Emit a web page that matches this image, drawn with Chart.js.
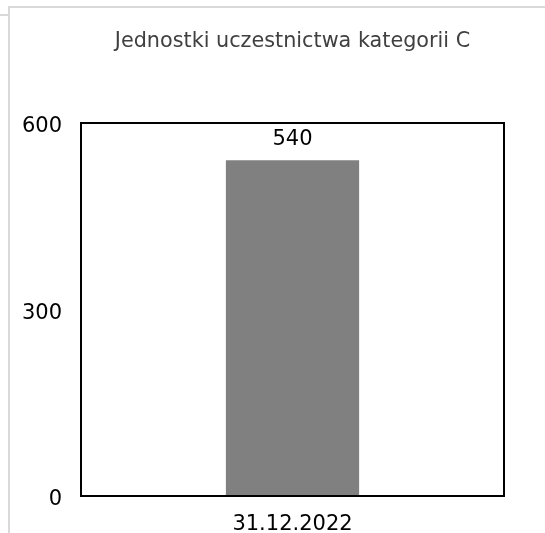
<!DOCTYPE html>
<html>
<head>
<meta charset="utf-8">
<script src="https://cdn.jsdelivr.net/npm/chart.js@4"></script>
<style>
  html, body { margin: 0; padding: 0; background: #fff; }
  #wrap { position: relative; width: 545px; height: 533px; overflow: hidden; }
  #chart { position: absolute; left: 0; top: 0; }
  .frame { position: absolute; background: #d9d9d9; }
</style>
</head>
<body>
<div id="wrap">
  <div class="frame" style="left:8px; top:6px; width:537px; height:2px;"></div>
  <div class="frame" style="left:8px; top:6px; width:2px; height:527px;"></div>
  <div class="frame" style="left:0; top:14px; width:8px; height:2px;"></div>
  <canvas id="chart" width="545" height="533"></canvas>
</div>
<script>
// dane
const chartTitle = "Jednostki uczestnictwa kategorii C";
const categories = ["31.12.2022"];
const values = [540];
const yTicks = [0, 300, 600];

const FONT = "'DejaVu Sans', Verdana, sans-serif";

// ramka wokół obszaru wykresu + tytuł + etykieta wartości
const extrasPlugin = {
  id: "extras",
  afterDraw(chart) {
    const { ctx, chartArea: a } = chart;
    ctx.save();
    ctx.strokeStyle = "#000";
    ctx.lineWidth = 2;
    ctx.strokeRect(a.left, a.top, a.right - a.left, a.bottom - a.top);

    ctx.fillStyle = "#404040";
    ctx.font = "20.75px " + FONT;
    ctx.textAlign = "center";
    ctx.textBaseline = "middle";
    ctx.fillText(chartTitle, (a.left + a.right) / 2, 42);

    ctx.fillStyle = "#000";
    ctx.font = "21px " + FONT;
    ctx.textBaseline = "alphabetic";
    const meta = chart.getDatasetMeta(0);
    meta.data.forEach((bar, i) => {
      ctx.fillText(String(values[i]), bar.x, bar.y - 15);
    });
    ctx.restore();
  }
};

new Chart(document.getElementById("chart").getContext("2d"), {
  type: "bar",
  data: {
    labels: categories,
    datasets: [{
      data: values,
      backgroundColor: "#808080",
      borderWidth: 0,
      barPercentage: 0.315,
      categoryPercentage: 1
    }]
  },
  options: {
    responsive: false,
    animation: false,
    devicePixelRatio: 1,
    layout: { padding: { top: 123, right: 41, bottom: 0, left: 0 } },
    plugins: {
      legend: { display: false },
      title: { display: false },
      tooltip: { enabled: false }
    },
    scales: {
      x: {
        grid: { display: false },
        border: { display: false },
        ticks: { color: "#000", font: { family: FONT, size: 21 }, padding: 8 },
        afterFit: (s) => { s.height = 37; }
      },
      y: {
        min: 0,
        max: 600,
        afterBuildTicks: (s) => { s.ticks = yTicks.map(v => ({ value: v })); },
        grid: { display: false },
        border: { display: false },
        ticks: { color: "#000", font: { family: FONT, size: 21 }, padding: 11, labelOffset: 4 },
        afterFit: (s) => { s.width = 81; }
      }
    }
  },
  plugins: [extrasPlugin]
});
</script>
</body>
</html>
